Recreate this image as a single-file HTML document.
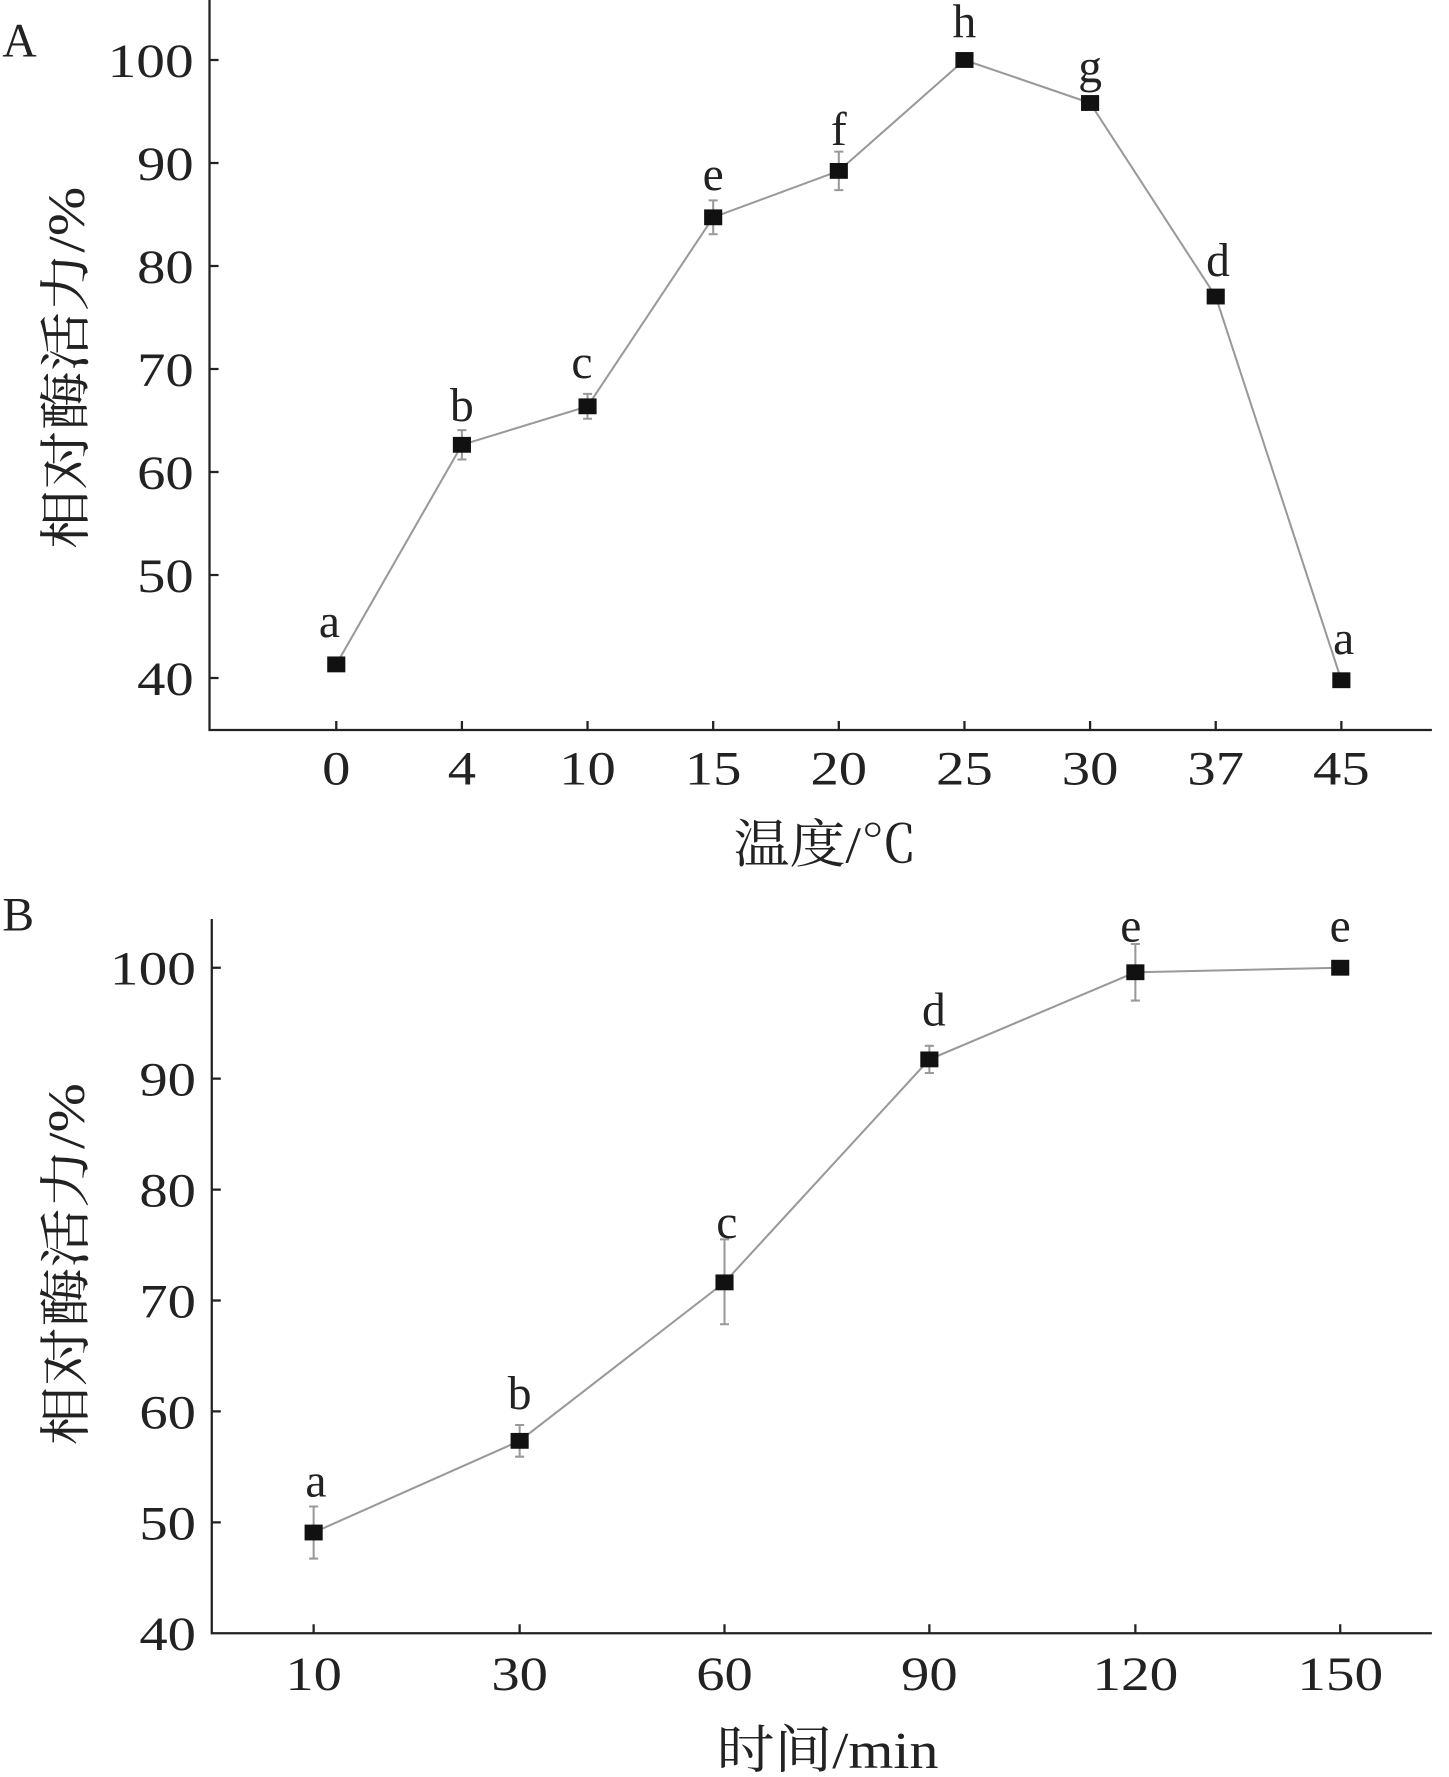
<!DOCTYPE html>
<html><head><meta charset="utf-8"><style>
html,body{margin:0;padding:0;background:#fff;}
svg{display:block;}
text{font-family:"Liberation Serif","Noto Serif CJK SC",serif;fill:#222;}
</style></head><body>
<svg width="1449" height="1777" viewBox="0 0 1280 1570" xmlns="http://www.w3.org/2000/svg">
<g stroke="#222" stroke-width="2" fill="none">
<path d="M185 0 V645 H1265"/>
<path d="M185 53 h8 M185 144 h8 M185 235 h8 M185 326 h8 M185 417 h8 M185 508 h8 M185 599 h8"/>
<path d="M297 645 v-8 M408 645 v-8 M519 645 v-8 M630 645 v-8 M741 645 v-8 M852 645 v-8 M963 645 v-8 M1074 645 v-8 M1185 645 v-8"/>
<path d="M187 812 V1443 H1265"/>
<path d="M187 855 h8 M187 953 h8 M187 1051 h8 M187 1149 h8 M187 1247 h8 M187 1345 h8"/>
<path d="M277 1443 v-8 M459 1443 v-8 M640 1443 v-8 M821 1443 v-8 M1003 1443 v-8 M1184 1443 v-8"/>
</g>
<g stroke="#999" stroke-width="1.8" fill="none">
<polyline points="297,587 408,393 519,359 630,192 741,151 852,53 963,91 1074,262 1185,601"/>
<path d="M408 380 v26 M404 380 h8 M404 406 h8 M519 348 v22 M515 348 h8 M515 370 h8 M630 177 v30 M626 177 h8 M626 207 h8 M741 134 v34 M737 134 h8 M737 168 h8"/>
<polyline points="277,1354 459,1273 640,1133 821,936 1003,859 1184,855"/>
<path d="M277 1331 v46 M273 1331 h8 M273 1377 h8 M459 1259 v28 M455 1259 h8 M455 1287 h8 M640 1095 v75 M636 1095 h8 M636 1170 h8 M821 924 v24 M817 924 h8 M817 948 h8 M1003 834 v50 M999 834 h8 M999 884 h8"/>
</g>
<g fill="#111">
<rect x="289" y="580" width="16" height="14"/><rect x="400" y="386" width="16" height="14"/>
<rect x="511" y="352" width="16" height="14"/><rect x="622" y="185" width="16" height="14"/>
<rect x="733" y="144" width="16" height="14"/><rect x="844" y="46" width="16" height="14"/>
<rect x="955" y="84" width="16" height="14"/><rect x="1066" y="255" width="16" height="14"/>
<rect x="1177" y="594" width="16" height="14"/>
<rect x="269" y="1347" width="16" height="14"/><rect x="451" y="1266" width="16" height="14"/>
<rect x="632" y="1126" width="16" height="14"/><rect x="813" y="929" width="16" height="14"/>
<rect x="995" y="852" width="16" height="14"/><rect x="1176" y="848" width="16" height="14"/>
</g>
<g font-size="42" text-anchor="end" lengthAdjust="spacingAndGlyphs">
<text x="171" y="68" textLength="76" lengthAdjust="spacingAndGlyphs">100</text><text x="171" y="159" textLength="50" lengthAdjust="spacingAndGlyphs">90</text><text x="171" y="250" textLength="50" lengthAdjust="spacingAndGlyphs">80</text>
<text x="171" y="341" textLength="50" lengthAdjust="spacingAndGlyphs">70</text><text x="171" y="432" textLength="50" lengthAdjust="spacingAndGlyphs">60</text><text x="171" y="523" textLength="50" lengthAdjust="spacingAndGlyphs">50</text><text x="171" y="614" textLength="50" lengthAdjust="spacingAndGlyphs">40</text>
<text x="173" y="870" textLength="76" lengthAdjust="spacingAndGlyphs">100</text><text x="173" y="968" textLength="50" lengthAdjust="spacingAndGlyphs">90</text><text x="173" y="1066" textLength="50" lengthAdjust="spacingAndGlyphs">80</text>
<text x="173" y="1164" textLength="50" lengthAdjust="spacingAndGlyphs">70</text><text x="173" y="1262" textLength="50" lengthAdjust="spacingAndGlyphs">60</text><text x="173" y="1360" textLength="50" lengthAdjust="spacingAndGlyphs">50</text><text x="173" y="1458" textLength="50" lengthAdjust="spacingAndGlyphs">40</text>
</g>
<g font-size="42" text-anchor="middle">
<text x="297" y="693" textLength="25" lengthAdjust="spacingAndGlyphs">0</text><text x="408" y="693" textLength="25" lengthAdjust="spacingAndGlyphs">4</text><text x="519" y="693" textLength="50" lengthAdjust="spacingAndGlyphs">10</text>
<text x="630" y="693" textLength="50" lengthAdjust="spacingAndGlyphs">15</text><text x="741" y="693" textLength="50" lengthAdjust="spacingAndGlyphs">20</text><text x="852" y="693" textLength="50" lengthAdjust="spacingAndGlyphs">25</text>
<text x="963" y="693" textLength="50" lengthAdjust="spacingAndGlyphs">30</text><text x="1074" y="693" textLength="50" lengthAdjust="spacingAndGlyphs">37</text><text x="1185" y="693" textLength="50" lengthAdjust="spacingAndGlyphs">45</text>
<text x="277" y="1493" textLength="50" lengthAdjust="spacingAndGlyphs">10</text><text x="459" y="1493" textLength="50" lengthAdjust="spacingAndGlyphs">30</text><text x="640" y="1493" textLength="50" lengthAdjust="spacingAndGlyphs">60</text>
<text x="821" y="1493" textLength="50" lengthAdjust="spacingAndGlyphs">90</text><text x="1003" y="1493" textLength="76" lengthAdjust="spacingAndGlyphs">120</text><text x="1184" y="1493" textLength="76" lengthAdjust="spacingAndGlyphs">150</text>
<text x="729" y="762" font-size="46" textLength="162" lengthAdjust="spacingAndGlyphs">温度/℃</text>
<text x="731" y="1562" font-size="46" textLength="196" lengthAdjust="spacingAndGlyphs">时间/min</text>
</g>
<g font-size="42" text-anchor="middle">
<text x="291" y="563">a</text><text x="408" y="372">b</text><text x="514" y="334">c</text>
<text x="630" y="168">e</text><text x="741" y="128">f</text><text x="852" y="33">h</text>
<text x="963" y="73">g</text><text x="1076" y="244">d</text><text x="1187" y="578">a</text>
<text x="279" y="1322">a</text><text x="459" y="1245">b</text><text x="642" y="1094">c</text>
<text x="825" y="906">d</text><text x="999" y="832">e</text><text x="1184" y="832">e</text>
</g>
<text x="2" y="50" font-size="42">A</text>
<text x="2" y="822" font-size="42">B</text>
<text font-size="46" text-anchor="middle" textLength="320" lengthAdjust="spacingAndGlyphs" transform="translate(74,325) rotate(-90)">相对酶活力/%</text>
<text font-size="46" text-anchor="middle" textLength="320" lengthAdjust="spacingAndGlyphs" transform="translate(74,1117) rotate(-90)">相对酶活力/%</text>
</svg>
</body></html>
